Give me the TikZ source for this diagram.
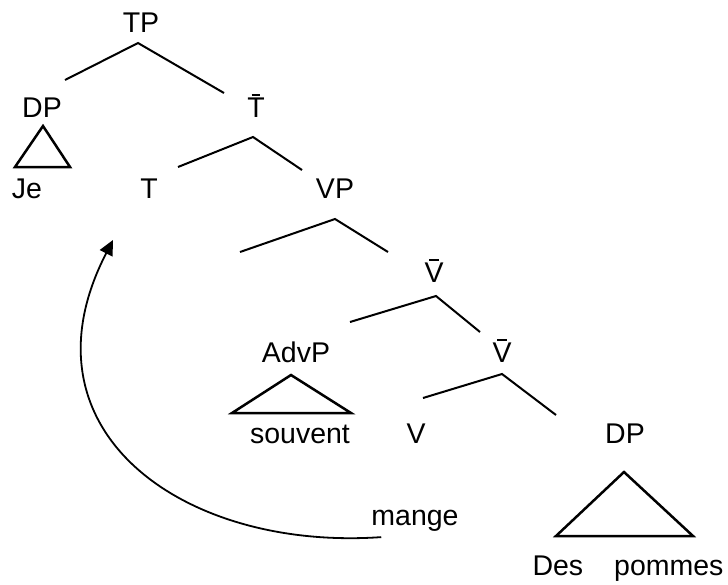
\documentclass[tikz,border=0pt]{standalone}
\usepackage{fontspec}
\setmainfont{Liberation Sans}
\usetikzlibrary{arrows.meta}

% bar-level label: a short bar over the letter
\newcommand{\barred}[1]{\setbox0\hbox{#1}\makebox[\wd0]{\rlap{\kern0.25\wd0\raisebox{\dimexpr\ht0+1.5pt\relax}{\rule{0.5\wd0}{2.2pt}}}\box0}}

\begin{document}
\begin{tikzpicture}[
        x=1pt, y=-1pt,
        font=\fontsize{28.5}{34}\selectfont,
        cat/.style={
            anchor=base,
            inner sep=0pt
        },
        branch/.style={
            line width=2pt
        },
        roof/.style={
            line width=2.5pt,
            line join=miter
        },
        move/.style={
            line width=1.8pt,
            -{Triangle[length=15pt,width=14pt]}
        }
    ]
    \useasboundingbox (0,0) rectangle (728,584);

    \node[cat] (TP) at (141,32) {TP};
    \node[cat] (DPje) at (42,117) {DP};
    \node[cat] (Tbar) at (256,117) {\barred{T}};
    \node[cat] (Je) at (27,198) {Je};
    \node[cat] (T) at (149,198) {T};
    \node[cat] (VP) at (335,198) {VP};
    \node[cat] (Vbar) at (434,282) {\barred{V}};
    \node[cat] (AdvP) at (296,362) {AdvP};
    \node[cat] (Vbarlow) at (502,362) {\barred{V}};
    \node[cat] (souvent) at (300,443) {souvent};
    \node[cat] (V) at (416,443) {V};
    \node[cat] (DPobj) at (625,443) {DP};
    \node[cat] (mange) at (415,525) {mange};
    \node[cat] (pommes) at (628,575) {Des\hspace{31pt}pommes};

    % empty specifier of VP and landing site of the verb
    \coordinate (VPspec) at (240,252);
    \coordinate (landing) at (113,240);

    \draw[branch] ([shift={(23,-37)}]DPje.base) -- ([shift={(-3,11)}]TP.base) -- ([shift={(-32,-24)}]Tbar.base);
    \draw[branch] ([shift={(29,-31)}]T.base) -- ([shift={(-3,20)}]Tbar.base) -- ([shift={(-33,-28)}]VP.base);
    \draw[branch] (VPspec) -- ([shift={(0,21)}]VP.base) -- ([shift={(-46,-30)}]Vbar.base);
    \draw[branch] ([shift={(54,-40)}]AdvP.base) -- ([shift={(2,14)}]Vbar.base) -- ([shift={(-22,-30)}]Vbarlow.base);
    \draw[branch] ([shift={(7,-45)}]V.base) -- ([shift={(0,12)}]Vbarlow.base) -- ([shift={(-69,-28)}]DPobj.base);

    \draw[roof] ([shift={(1,9)}]DPje.base) -- ([shift={(-27,50)}]DPje.base) -- ([shift={(28,50)}]DPje.base) -- cycle;
    \draw[roof] ([shift={(-5,13)}]AdvP.base) -- ([shift={(-64,51)}]AdvP.base) -- ([shift={(55,51)}]AdvP.base) -- cycle;
    \draw[roof] ([shift={(-1,29)}]DPobj.base) -- ([shift={(-69,93)}]DPobj.base) -- ([shift={(68,93)}]DPobj.base) -- cycle;

    \draw[move] ([shift={(10,6)}]mange.south west) .. controls (182,551) and (15,430) .. (landing);
\end{tikzpicture}
\end{document}
